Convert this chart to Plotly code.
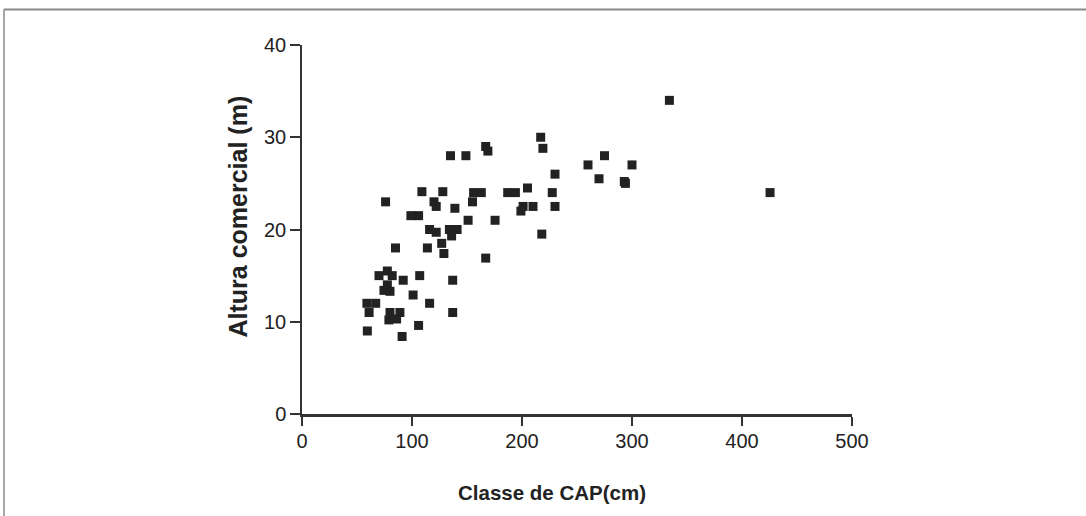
import plotly.graph_objects as go

# Data
cap_cm = [334, 425.5, 217, 219, 167, 169, 135, 149, 275, 260, 300, 270, 293, 294, 230,
          109, 128, 156, 163, 187, 194, 205, 227.5, 76, 120, 122, 155, 139, 201, 199,
          210, 230, 99, 106, 151, 175.5, 116, 122, 134, 141, 136, 218, 127, 85, 114,
          129, 167, 77.6, 70, 82, 107, 92, 137, 77.6, 74.5, 80, 101, 59, 67, 116,
          61, 80, 89, 79, 86, 137, 106, 59.4, 91]
altura_m = [34.0, 24.0, 30.0, 28.8, 29.0, 28.5, 28.0, 28.0, 28.0, 27.0, 27.0, 25.5, 25.2, 25.0, 26.0,
            24.1, 24.1, 24.0, 24.0, 24.0, 24.0, 24.5, 24.0, 23.0, 23.0, 22.5, 23.0, 22.3, 22.5, 22.0,
            22.5, 22.5, 21.5, 21.5, 21.0, 21.0, 20.0, 19.7, 20.0, 20.0, 19.3, 19.5, 18.5, 18.0, 18.0,
            17.4, 16.9, 15.5, 15.0, 15.0, 15.0, 14.5, 14.5, 14.0, 13.4, 13.3, 12.9, 12.0, 12.0, 12.0,
            11.0, 11.0, 11.0, 10.2, 10.3, 11.0, 9.6, 9.0, 8.4]

x_ticks = [0, 100, 200, 300, 400, 500]
y_ticks = [0, 10, 20, 30, 40]
x_title = "Classe de CAP(cm)"
y_title = "Altura comercial (m)"

FONT = "Liberation Sans"

fig = go.Figure()
fig.add_trace(go.Scatter(
    x=cap_cm, y=altura_m, mode="markers",
    marker=dict(symbol="square", size=9, color="#222222", line=dict(width=0)),
    showlegend=False, hoverinfo="x+y",
))

fig.update_layout(
    width=1086, height=516,
    margin=dict(l=302, r=234, t=45, b=102),
    paper_bgcolor="white", plot_bgcolor="white",
    xaxis=dict(range=[0, 500], tickvals=x_ticks, showgrid=False, zeroline=False,
               showline=True, linecolor="#333333", linewidth=2.5,
               ticks="outside", ticklen=9, tickwidth=1.5, tickcolor="#333333",
               tickfont=dict(family=FONT, size=20, color="#222222"),
               ticklabelstandoff=-2),
    yaxis=dict(range=[0, 40], tickvals=y_ticks, showgrid=False, zeroline=False,
               showline=True, linecolor="#333333", linewidth=1.5,
               ticks="outside", ticklen=10, tickwidth=1.5, tickcolor="#333333",
               tickfont=dict(family=FONT, size=20, color="#222222"),
               ticklabelstandoff=0),
    annotations=[
        dict(text="<b>%s</b>" % x_title, xref="paper", yref="paper",
             x=(551.5 - 302) / 550, y=(414 - 492) / 369, xanchor="center", yanchor="middle",
             showarrow=False, font=dict(family=FONT, size=20.5, color="#222222")),
        dict(text="<b>%s</b>" % y_title, xref="paper", yref="paper", textangle=-90,
             x=(237 - 302) / 550, y=(414 - 216.5) / 369, xanchor="center", yanchor="middle",
             showarrow=False, font=dict(family=FONT, size=25, color="#222222")),
    ],
    shapes=[
        dict(type="line", xref="paper", yref="paper",
             x0=(4 - 302) / 550, x1=(1090 - 302) / 550,
             y0=(414 - 9.5) / 369, y1=(414 - 9.5) / 369,
             line=dict(color="#8a8a8a", width=2)),
        dict(type="line", xref="paper", yref="paper",
             x0=(4 - 302) / 550, x1=(4 - 302) / 550,
             y0=(414 - 9.5) / 369, y1=(414 - 520) / 369,
             line=dict(color="#8a8a8a", width=1.5)),
    ],
)

fig.write_html("out.html", config={"displayModeBar": False},
               post_script="document.body.style.margin='0px';")
